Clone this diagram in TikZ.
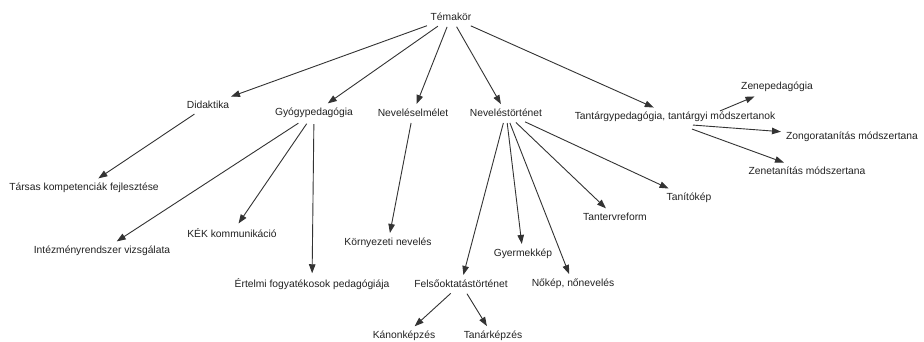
\documentclass[tikz,border=0pt]{standalone}
\usepackage{fontspec}
\setmainfont{Liberation Sans}
\usetikzlibrary{arrows.meta,calc}
\definecolor{txt}{HTML}{222222}
\definecolor{ln}{HTML}{333333}
\tikzset{
  lbl/.style={text=txt, inner sep=4pt, font=\fontsize{10.3}{12}\selectfont},
  conn/.style={draw=ln, line width=0.9pt, -{Triangle[length=9pt,width=6.5pt]}, shorten >=1pt, shorten <=2pt}
}
\begin{document}
\begin{tikzpicture}[x=1pt,y=-1pt]
\fill[white] (0,0) rectangle (924,342);
\useasboundingbox (0,0) rectangle (924,342);
\node[lbl] (tem) at (451,17) {Témakör};
\node[lbl] (did) at (208,105) {Didaktika};
\node[lbl] (gyo) at (314,113) {Gyógypedagógia};
\node[lbl] (nel) at (413,113) {Neveléselmélet};
\node[lbl] (net) at (506,113) {Neveléstörténet};
\node[lbl] (tan) at (675,117) {Tantárgypedagógia, tantárgyi módszertanok};
\node[lbl] (zen) at (777,87) {Zenepedagógia};
\node[lbl] (zon) at (852,137) {Zongoratanítás módszertana};
\node[lbl] (zet) at (807,171) {Zenetanítás módszertana};
\node[lbl] (tar) at (84,188) {Társas kompetenciák fejlesztése};
\node[lbl] (int) at (102,251) {Intézményrendszer vizsgálata};
\node[lbl] (kek) at (232,233) {KÉK kommunikáció};
\node[lbl] (kor) at (388,243) {Környezeti nevelés};
\node[lbl] (ert) at (312,284) {Értelmi fogyatékosok pedagógiája};
\node[lbl] (fel) at (461,284) {Felsőoktatástörténet};
\node[lbl] (kan) at (404,336) {Kánonképzés};
\node[lbl] (tnk) at (493,336) {Tanárképzés};
\node[lbl] (gye) at (523,254) {Gyermekkép};
\node[lbl] (nok) at (573,284) {Nőkép, nőnevelés};
\node[lbl] (tre) at (615,217) {Tantervreform};
\node[lbl] (tak) at (689,198) {Tanítókép};

\draw[conn] (tem) -- (did);
\draw[conn] (tem) -- (gyo);
\draw[conn] (tem) -- (nel);
\draw[conn] (tem) -- (net);
\draw[conn] (tem) -- (tan);
\draw[conn] (did) -- (tar);
\draw[conn] (gyo) -- (int);
\draw[conn] (gyo) -- (kek);
\draw[conn] (gyo) -- (ert);
\draw[conn] (nel) -- (kor);
\draw[conn] (net) -- (fel);
\draw[conn] (net) -- (gye);
\draw[conn] (net) -- (nok);
\draw[conn] (net) -- (tre);
\draw[conn] (net) -- (tak);
\draw[conn,shorten <=0pt] ($(tan.north)+(45,3)$) -- (zen);
\draw[conn,shorten <=0pt] ($(tan.south)+(18,-1)$) -- (zon);
\draw[conn,shorten <=0pt] ($(tan.south)+(17,3)$) -- (zet);
\draw[conn] (fel) -- (kan);
\draw[conn] (fel) -- (tnk);
\end{tikzpicture}
\end{document}
